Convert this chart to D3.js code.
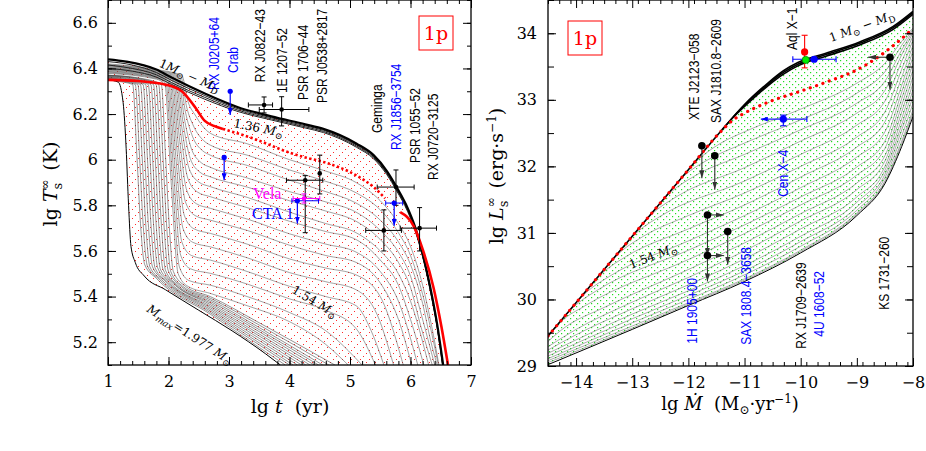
<!DOCTYPE html>
<html>
<head>
<meta charset="utf-8">
<script src="https://cdn.jsdelivr.net/npm/d3@7/dist/d3.min.js"></script>
<style>
body { margin: 0; background: #fff; }
text { white-space: pre; }
</style>
</head>
<body>
<div id="vis"></div>
<script>
// ---------- left panel: cooling curves, [lg t (yr), lg Ts (K)] ----------
const coolTop = [[1,6.44],[1.3,6.43],[1.8,6.395],[2.05,6.36],[2.6,6.29],[3.15,6.23],[3.7,6.19],[4.26,6.155],[4.56,6.135],[5.11,6.07],[5.39,6.02],[5.61,5.95],[5.77,5.88],[5.95,5.79],[6.07,5.71],[6.2,5.59],[6.32,5.45],[6.44,5.28],[6.54,5.1]]
const coolBand = [
  [[1,6.43],[1.4,6.415],[1.8,6.382],[2.05,6.348],[2.6,6.281],[3.15,6.223],[3.7,6.184],[4.26,6.149],[4.56,6.129],[5.11,6.064],[5.39,6.014],[5.61,5.944],[5.77,5.874],[5.95,5.784],[6.07,5.704],[6.2,5.584],[6.32,5.444],[6.44,5.274],[6.537,5.1]],
  [[1,6.415],[1.4,6.4],[1.8,6.372],[2.05,6.338],[2.6,6.273],[3.15,6.217],[3.7,6.179],[4.26,6.144],[4.56,6.124],[5.11,6.059],[5.39,6.009],[5.61,5.939],[5.77,5.869],[5.95,5.779],[6.07,5.699],[6.2,5.579],[6.32,5.439],[6.44,5.269],[6.533,5.1]],
  [[1,6.40],[1.4,6.388],[1.8,6.362],[2.05,6.33],[2.6,6.265],[3.15,6.211],[3.7,6.174],[4.26,6.139],[4.56,6.119],[5.11,6.054],[5.39,6.004],[5.61,5.934],[5.77,5.864],[5.95,5.774],[6.07,5.694],[6.2,5.574],[6.32,5.434],[6.44,5.264],[6.528,5.1]]
]
// masses between 1.36 Msun and the dense band (hatched region)
const coolFamily = [
  [[1,6.42],[1.8,6.395],[2.22,6.37],[2.32,6.256],[2.44,6.196],[2.6,6.136],[2.69,6.116],[3.3,6.07],[4.0,6.0],[4.6,5.95],[5.1,5.9],[5.5,5.82],[5.8,5.72],[6.0,5.62],[6.2,5.45],[6.35,5.27],[6.47,5.1]],
  [[1,6.417],[1.8,6.392],[2.2,6.367],[2.3,6.231],[2.42,6.144],[2.58,6.084],[2.69,6.064],[3.3,6.02],[4.0,5.955],[4.6,5.905],[5.1,5.855],[5.5,5.78],[5.8,5.68],[6.0,5.58],[6.2,5.41],[6.35,5.24],[6.46,5.1]],
  [[1,6.414],[1.8,6.389],[2.18,6.364],[2.28,6.209],[2.4,6.1],[2.56,6.04],[2.69,6.02],[3.3,5.975],[4.0,5.91],[4.6,5.86],[5.1,5.81],[5.5,5.735],[5.8,5.64],[6.0,5.54],[6.2,5.37],[6.33,5.21],[6.44,5.1]],
  [[1,6.411],[1.8,6.386],[2.16,6.361],[2.26,6.184],[2.38,6.047],[2.54,5.987],[2.69,5.967],[3.3,5.92],[4.0,5.86],[4.6,5.815],[5.1,5.77],[5.5,5.69],[5.8,5.595],[6.0,5.49],[6.18,5.32],[6.4,5.1]],
  [[1,6.408],[1.8,6.383],[2.14,6.358],[2.24,6.163],[2.36,6.005],[2.52,5.945],[2.69,5.925],[3.3,5.88],[4.0,5.82],[4.6,5.775],[5.1,5.73],[5.5,5.65],[5.8,5.55],[6.0,5.44],[6.17,5.27],[6.36,5.1]],
  [[1,6.405],[1.8,6.38],[2.12,6.355],[2.22,6.142],[2.34,5.962],[2.5,5.902],[2.69,5.882],[3.3,5.835],[4.0,5.77],[4.6,5.72],[5.1,5.68],[5.5,5.6],[5.8,5.5],[6.0,5.38],[6.3,5.1]],
  [[1,6.402],[1.8,6.377],[2.1,6.352],[2.2,6.121],[2.32,5.918],[2.48,5.858],[2.69,5.838],[3.3,5.79],[4.0,5.73],[4.6,5.685],[5.1,5.65],[5.5,5.56],[5.8,5.45],[6.0,5.3],[6.22,5.1]],
  [[1,6.399],[1.8,6.374],[2.08,6.349],[2.18,6.096],[2.3,5.867],[2.46,5.807],[2.69,5.787],[3.3,5.74],[4.0,5.675],[4.6,5.63],[5.1,5.595],[5.5,5.51],[5.8,5.38],[6.12,5.1]],
  [[1,6.396],[1.8,6.371],[2.06,6.346],[2.16,6.071],[2.28,5.815],[2.44,5.755],[2.69,5.735],[3.3,5.69],[4.0,5.625],[4.6,5.58],[5.1,5.55],[5.5,5.46],[5.8,5.3],[6.02,5.1]],
  [[1,6.393],[1.8,6.368],[2.04,6.343],[2.14,6.043],[2.26,5.757],[2.42,5.697],[2.69,5.677],[3.3,5.63],[4.0,5.565],[4.6,5.525],[5.1,5.495],[5.5,5.4],[5.88,5.1]],
  [[1,6.39],[1.8,6.365],[2.02,6.34],[2.12,6.015],[2.24,5.698],[2.4,5.638],[2.69,5.618],[3.3,5.57],[4.0,5.505],[4.6,5.465],[5.1,5.43],[5.45,5.32],[5.72,5.1]],
  [[1,6.387],[1.8,6.362],[2.0,6.337],[2.1,5.987],[2.22,5.64],[2.38,5.58],[2.69,5.56],[3.3,5.51],[4.0,5.445],[4.6,5.4],[5.1,5.36],[5.35,5.25],[5.56,5.1]],
  [[1,6.384],[1.8,6.359],[1.98,6.334],[2.08,5.96],[2.2,5.582],[2.36,5.522],[2.69,5.502],[3.3,5.455],[4.0,5.39],[4.6,5.34],[5.1,5.26],[5.42,5.1]],
  [[1,6.381],[1.8,6.356],[1.96,6.331],[2.06,5.935],[2.18,5.53],[2.34,5.47],[2.69,5.45],[3.3,5.4],[4.0,5.33],[4.6,5.25],[5.2,5.1]],
  [[1,6.378],[1.8,6.353],[1.94,6.328],[2.04,5.917],[2.16,5.5],[2.32,5.445],[2.69,5.414],[3.3,5.36],[4.0,5.29],[4.6,5.19],[4.97,5.1]]
]
// dense bundle just above the maximum mass
const coolDense = [
  [[1,6.37],[1.58,6.355],[1.88,6.33],[1.95,6.02],[2.01,5.72],[2.08,5.51],[2.28,5.445],[2.69,5.4],[3.5,5.285],[4.75,5.1]],
  [[1,6.37],[1.537,6.355],[1.837,6.33],[1.907,6.02],[1.967,5.72],[2.037,5.51],[2.237,5.445],[2.69,5.393],[3.5,5.275],[4.65,5.1]],
  [[1,6.37],[1.494,6.355],[1.794,6.33],[1.864,6.02],[1.924,5.72],[1.994,5.515],[2.194,5.448],[2.69,5.386],[3.5,5.264],[4.55,5.1]],
  [[1,6.368],[1.451,6.354],[1.751,6.33],[1.821,6.02],[1.881,5.72],[1.951,5.515],[2.151,5.45],[2.69,5.379],[3.5,5.255],[4.48,5.1]],
  [[1,6.366],[1.408,6.353],[1.708,6.33],[1.778,6.02],[1.838,5.72],[1.908,5.52],[2.108,5.455],[2.69,5.372],[3.5,5.246],[4.41,5.1]],
  [[1,6.364],[1.365,6.352],[1.665,6.33],[1.735,6.02],[1.795,5.72],[1.865,5.52],[2.065,5.46],[2.69,5.365],[3.5,5.236],[4.34,5.1]],
  [[1,6.362],[1.322,6.351],[1.622,6.33],[1.692,6.02],[1.752,5.72],[1.822,5.525],[2.022,5.462],[2.69,5.358],[3.5,5.227],[4.27,5.1]],
  [[1,6.36],[1.279,6.35],[1.579,6.33],[1.649,6.02],[1.709,5.72],[1.779,5.525],[1.979,5.465],[2.69,5.351],[3.5,5.217],[4.2,5.1]],
  [[1,6.358],[1.236,6.349],[1.536,6.33],[1.606,6.02],[1.666,5.72],[1.736,5.53],[1.936,5.47],[2.69,5.344],[3.5,5.207],[4.13,5.1]],
  [[1,6.356],[1.193,6.348],[1.493,6.33],[1.563,6.02],[1.623,5.72],[1.693,5.53],[1.893,5.472],[2.69,5.337],[3.5,5.197],[4.06,5.1]],
  [[1,6.354],[1.15,6.347],[1.45,6.33],[1.52,6.02],[1.58,5.72],[1.65,5.535],[1.85,5.475],[2.69,5.33],[3.5,5.188],[4.0,5.1]],
  [[1,6.352],[1.107,6.346],[1.407,6.33],[1.477,6.02],[1.537,5.72],[1.607,5.54],[1.807,5.478],[2.69,5.323],[3.5,5.177],[3.93,5.1]]
]
const coolMax = [[1,6.35],[1.17,6.34],[1.25,6.25],[1.3,6.05],[1.34,5.8],[1.38,5.62],[1.45,5.55],[1.6,5.49],[1.95,5.43],[2.5,5.34],[3.05,5.25],[3.6,5.15],[3.85,5.1]]
const coolRedSolid = [[1,6.35],[1.5,6.345],[1.94,6.33],[2.22,6.3],[2.44,6.23],[2.6,6.17],[2.75,6.148],[2.9,6.135]]
const coolRedDotted = [[2.9,6.135],[3.43,6.09],[4.01,6.03],[4.26,6.01],[4.56,5.99],[5.11,5.93],[5.39,5.88],[5.58,5.83]]
const coolRedLate = [[5.83,5.77],[6.05,5.71],[6.21,5.6],[6.38,5.44],[6.51,5.27],[6.62,5.1]]

// observed sources: t, T, error ranges, upper limit (Tlim)
const coolStars = [
  {name: 'RX J0822−43', t: 3.58, T: 6.24, tErr: [3.32, 3.72], TErr: [6.205, 6.275], color: '#000'},
  {name: '1E 1207−52', t: 3.87, T: 6.22, tErr: [3.5, 4.32], TErr: [6.148, 6.276], color: '#000'},
  {name: 'PSR 1706−44', t: 4.5, T: 5.94, TErr: [5.85, 6.02], color: '#000'},
  {name: 'PSR J0538+2817', t: 4.26, T: 5.91, tErr: [3.95, 4.55], TErr: [5.68, 5.93], color: '#000'},
  {name: 'Geminga', t: 5.76, T: 5.88, tErr: [5.45, 6.06], TErr: [5.8, 5.955], color: '#000'},
  {name: 'PSR 1055−52', t: 5.56, T: 5.69, tErr: [5.26, 5.85], TErr: [5.6, 5.78], color: '#000'},
  {name: 'RX J0720−3125', t: 6.15, T: 5.7, tErr: [5.83, 6.43], TErr: [5.6, 5.79], color: '#000'},
  {name: 'CTA 1', t: 4.13, T: 5.82, tErr: [4.04, 4.48], Tlim: 5.72, color: '#0000ff'},
  {name: 'Vela', t: 4.24, T: 5.83, tErr: [4.06, 4.5], TErr: [5.81, 5.85], color: '#ff00ff'},
  {name: 'Crab', t: 3.02, T: 6.3, Tlim: 6.196, color: '#0000ff'},
  {name: 'RX J0205+64', t: 2.92, T: 6.01, Tlim: 5.91, color: '#0000ff'},
  {name: 'RX J1856−3754', t: 5.73, T: 5.81, tErr: [5.59, 5.87], Tlim: 5.71, color: '#0000ff'}
]
// vertical source names: [text, lg t, lg T, colour]
const coolNames = [
  ['RX J0205+64', 2.835, 6.305, '#0000ff'], ['Crab', 3.149, 6.38, '#0000ff'],
  ['RX J0822−43', 3.595, 6.34, '#000'], ['1E 1207−52', 3.959, 6.292, '#000'],
  ['PSR 1706−44', 4.306, 6.262, '#000'], ['PSR J0538+2817', 4.62, 6.248, '#000'],
  ['Geminga', 5.529, 6.117, '#000'], ['RX J1856−3754', 5.843, 6.042, '#0000ff'],
  ['PSR 1055−52', 6.157, 5.985, '#000'], ['RX J0720−3125', 6.455, 5.911, '#000']
]

// ---------- right panel: heating curves, [lg Mdot, lg L (erg/s)] ----------
const heatTop = [[-14.5,29.45],[-12,31.95],[-11.4,32.55],[-11.0,32.93],[-10.6,33.24],[-10.3,33.44],[-10.05,33.56],[-9.55,33.7],[-8.95,33.87],[-8.36,34.1],[-8.0,34.33]]
const heatBand = [
  [[-11.4,32.55],[-11.0,32.92],[-10.6,33.22],[-10.3,33.415],[-10.05,33.535],[-9.55,33.68],[-8.95,33.85],[-8.36,34.08],[-8.0,34.31]],
  [[-11.2,32.74],[-11.0,32.9],[-10.6,33.2],[-10.3,33.39],[-10.05,33.51],[-9.55,33.655],[-8.95,33.825],[-8.36,34.055],[-8.0,34.285]]
]
const heatRed = [[-14.5,29.45],[-12,31.95],[-11.45,32.5],[-11.2,32.7],[-11.0,32.8],[-10.5,32.99],[-10.0,33.13],[-9.5,33.28],[-9.0,33.45],[-8.66,33.62],[-8.3,33.85],[-8.07,34.02],[-8.0,34.08]]
const heatFamily = [
  [[-12.2,31.75],[-11.8,32.12],[-11.4,32.36],[-11.0,32.52],[-10.0,32.86],[-9.0,33.25],[-8.5,33.55],[-8.2,33.88],[-8.0,34.08]],
  [[-12.45,31.5],[-12.06,31.87],[-11.65,32.1],[-11.0,32.35],[-10.0,32.7],[-9.0,33.1],[-8.5,33.42],[-8.2,33.82],[-8.0,34.06]],
  [[-12.7,31.25],[-12.3,31.62],[-11.9,31.85],[-11.0,32.18],[-10.0,32.55],[-9.0,32.95],[-8.5,33.28],[-8.2,33.75],[-8.0,34.04]],
  [[-13.0,30.95],[-12.6,31.32],[-12.2,31.55],[-11.0,31.98],[-10.0,32.38],[-9.0,32.8],[-8.5,33.14],[-8.2,33.68],[-8.0,34.01]],
  [[-13.3,30.65],[-12.9,31.02],[-12.5,31.25],[-11.0,31.78],[-10.0,32.18],[-9.0,32.62],[-8.5,32.98],[-8.2,33.58],[-8.0,33.96]],
  [[-13.6,30.35],[-13.2,30.72],[-12.8,30.95],[-12.0,31.26],[-11.0,31.6],[-10.0,32.0],[-9.0,32.44],[-8.5,32.82],[-8.2,33.46],[-8.0,33.9]],
  [[-13.9,30.05],[-13.5,30.42],[-13.1,30.65],[-12.0,31.06],[-11.0,31.42],[-10.0,31.84],[-9.0,32.29],[-8.5,32.67],[-8.2,33.34],[-8.0,33.82]],
  [[-14.2,29.75],[-13.8,30.12],[-13.4,30.35],[-12.0,30.88],[-11.0,31.26],[-10.0,31.68],[-9.0,32.14],[-8.5,32.52],[-8.2,33.22],[-8.0,33.74]],
  [[-14.5,29.45],[-14.0,29.92],[-13.6,30.15],[-12.0,30.74],[-11.0,31.12],[-10.0,31.54],[-9.0,31.99],[-8.5,32.38],[-8.2,33.12],[-8.0,33.65]],
  [[-14.5,29.44],[-14.25,29.68],[-13.85,29.9],[-12.0,30.6],[-11.0,30.99],[-10.0,31.42],[-9.0,31.87],[-8.5,32.27],[-8.2,33.02],[-8.0,33.55]],
  [[-14.5,29.37],[-14.2,29.58],[-13.5,29.88],[-12.0,30.45],[-11.0,30.85],[-10.0,31.29],[-9.0,31.75],[-8.5,32.16],[-8.2,32.92],[-8.0,33.45]],
  [[-14.5,29.29],[-14.0,29.55],[-13.0,29.96],[-12.0,30.33],[-11.0,30.73],[-10.0,31.18],[-9.0,31.65],[-8.5,32.08],[-8.2,32.82],[-8.0,33.35]],
  [[-14.5,29.24],[-14.0,29.47],[-13.0,29.86],[-12.0,30.22],[-11.0,30.61],[-10.0,31.06],[-9.0,31.54],[-8.5,32.0],[-8.2,32.72],[-8.0,33.25]],
  [[-14.5,29.19],[-13.0,29.78],[-12.0,30.13],[-11.0,30.51],[-10.0,30.95],[-9.0,31.46],[-8.5,31.94],[-8.2,32.63],[-8.0,33.15]],
  [[-14.5,29.15],[-13.0,29.71],[-12.0,30.06],[-11.0,30.43],[-10.0,30.87],[-9.0,31.39],[-8.5,31.88],[-8.2,32.55],[-8.0,33.05]],
  [[-14.5,29.11],[-13.0,29.65],[-12.0,30.0],[-11.0,30.37],[-10.0,30.8],[-9.0,31.34],[-8.5,31.83],[-8.2,32.46],[-8.0,32.95]],
  [[-14.5,29.08],[-13.0,29.6],[-12.0,29.95],[-11.0,30.31],[-10.0,30.74],[-9.0,31.3],[-8.5,31.78],[-8.2,32.38],[-8.0,32.85]],
  [[-14.5,29.05],[-13.0,29.57],[-12.0,29.93],[-11.0,30.29],[-10.0,30.72],[-9.0,31.28],[-8.5,31.76],[-8.2,32.34],[-8.0,32.8]]
]
const heatBottom = [[-14.5,29.02],[-13.0,29.55],[-12.0,29.91],[-11.0,30.27],[-10.0,30.7],[-9.0,31.26],[-8.5,31.74],[-8.2,32.3],[-8.0,32.75]]

// observed transients: m = lg Mdot, L = lg L, limits mLim / LLim
const heatStars = [
  {name: 'Aql X−1', m: -9.93, L: 33.72, LErr: [33.48, 33.97], color: '#ff0000', r: 3.6},
  {name: 'RX J1709−2639', m: -9.91, L: 33.6, color: '#00ee00', r: 3.6},
  {name: '4U 1608−52', m: -9.76, L: 33.61, mErr: [-10.14, -9.37], color: '#0000ff', r: 3.6},
  {name: 'KS 1731−260', m: -8.41, L: 33.64, mLim: -8.8, LLim: 33.15, color: '#000', r: 3.8},
  {name: 'Cen X−4', m: -10.31, L: 32.71, mErr: [-10.31, -9.89], mLim: -10.71, LErr: [32.61, 32.77], color: '#0000ff', r: 3.6},
  {name: 'XTE J2123−058', m: -11.76, L: 32.31, LLim: 31.82, color: '#000', r: 3.8},
  {name: 'SAX J1810.8−2609', m: -11.53, L: 32.16, LLim: 31.65, color: '#000', r: 3.8},
  {name: '1H 1905+00', m: -11.66, L: 31.27, mLim: -11.37, LLim: 30.66, color: '#000', r: 3.8},
  {name: '1H 1905+00', m: -11.66, L: 30.66, mLim: -11.37, LLim: 30.27, color: '#000', r: 3.8},
  {name: 'SAX 1808.4−3658', m: -11.3, L: 31.02, LLim: 30.52, color: '#000', r: 3.8}
]
const heatNames = [
  ['XTE J2123−058', -11.811, 32.698, '#000'], ['SAX J1810.8−2609', -11.419, 32.653, '#000'],
  ['Aql X−1', -10.065, 33.749, '#000'], ['Cen X−4', -10.226, 31.542, '#0000ff'],
  ['1H 1905+00', -11.846, 29.335, '#0000ff'], ['SAX 1808.4−3658', -10.885, 29.32, '#0000ff'],
  ['RX J1709−2639', -9.905, 29.26, '#000'], ['4U 1608−52', -9.585, 29.44, '#0000ff'],
  ['KS 1731−260', -8.427, 29.845, '#000']
]

const leftXTicks = [1, 2, 3, 4, 5, 6, 7]
const leftYTicks = [5.2, 5.4, 5.6, 5.8, 6, 6.2, 6.4, 6.6]
const rightXTicks = [-14, -13, -12, -11, -10, -9, -8]
const rightYTicks = [29, 30, 31, 32, 33, 34]

const serif = 'DejaVu Serif, serif'
const svg = d3.select('#vis').append('svg').attr('width', 926).attr('height', 451)
const defs = svg.append('defs')

// dotted hatching patterns
const redHatch = defs.append('pattern').attr('id', 'redHatch').attr('patternUnits', 'userSpaceOnUse')
  .attr('width', 9).attr('height', 9)
;[[0, 8], [3, 5], [6, 2]].forEach(p => redHatch.append('rect')
  .attr('x', p[0]).attr('y', p[1]).attr('width', 1).attr('height', 1).attr('fill', '#ff2a2a'))
const greenHatch = defs.append('pattern').attr('id', 'greenHatch').attr('patternUnits', 'userSpaceOnUse')
  .attr('width', 6).attr('height', 6)
;[[0, 0], [3, 3]].forEach(p => greenHatch.append('rect')
  .attr('x', p[0]).attr('y', p[1]).attr('width', 1.2).attr('height', 1.2).attr('fill', '#22dd22'))

function marker(id, color, len, wid) {
  defs.append('marker').attr('id', id).attr('markerUnits', 'userSpaceOnUse')
    .attr('markerWidth', len).attr('markerHeight', wid).attr('refX', len).attr('refY', wid / 2)
    .attr('orient', 'auto')
    .append('path').attr('d', `M0,0L${len},${wid / 2}L0,${wid}Z`).attr('fill', color)
}
marker('arrBlue', '#0000ff', 7, 5)
marker('arrGray', '#333', 8, 5)

function clip(id, x, y) {
  defs.append('clipPath').attr('id', id).append('rect')
    .attr('x', x.range()[0]).attr('y', y.range()[1])
    .attr('width', x.range()[1] - x.range()[0]).attr('height', y.range()[0] - y.range()[1])
}

function rich(sel, parts) {
  parts.forEach(p => {
    const t = sel.append('tspan').text(p[0])
    if (p[1]) Object.entries(p[1]).forEach(([k, v]) => t.attr(k, v))
  })
  return sel
}

function axes(x, y, xMajor, yMajor, xMinorStep, yMinorStep, yMinorLen, yPad) {
  const [x0, x1] = x.range(), [yb, yt] = y.range()
  const xd = x.domain(), yd = y.domain()
  const xMinor = d3.range(xd[0], xd[1] + 1e-6, xMinorStep)
  const yMinor = d3.range(yd[0], yd[1] + 1e-6, yMinorStep)
  const fmt = d3.format('~g')
  const g = svg.append('g')
  g.append('g').attr('transform', `translate(0,${yb})`)
    .call(d3.axisBottom(x).tickValues(xMajor).tickSize(-8).tickPadding(10.5).tickFormat(fmt))
  g.append('g').attr('transform', `translate(0,${yb})`)
    .call(d3.axisBottom(x).tickValues(xMinor).tickSize(-4).tickFormat(''))
  g.append('g').attr('transform', `translate(0,${yt})`)
    .call(d3.axisTop(x).tickValues(xMajor).tickSize(-8).tickFormat(''))
  g.append('g').attr('transform', `translate(0,${yt})`)
    .call(d3.axisTop(x).tickValues(xMinor).tickSize(-4).tickFormat(''))
  g.append('g').attr('transform', `translate(${x0},0)`)
    .call(d3.axisLeft(y).tickValues(yMajor).tickSize(-8).tickPadding(yPad).tickFormat(fmt))
  g.append('g').attr('transform', `translate(${x0},0)`)
    .call(d3.axisLeft(y).tickValues(yMinor).tickSize(-yMinorLen).tickFormat(''))
  g.append('g').attr('transform', `translate(${x1},0)`)
    .call(d3.axisRight(y).tickValues(yMajor).tickSize(-8).tickFormat(''))
  g.append('g').attr('transform', `translate(${x1},0)`)
    .call(d3.axisRight(y).tickValues(yMinor).tickSize(-yMinorLen).tickFormat(''))
  g.selectAll('.domain').remove()
  g.selectAll('.tick line').attr('stroke', '#000').attr('stroke-width', 1)
  g.selectAll('.tick text').attr('font-family', serif).attr('font-size', 16).attr('fill', '#000')
  svg.append('rect').attr('x', x0).attr('y', yt).attr('width', x1 - x0).attr('height', yb - yt)
    .attr('fill', 'none').attr('stroke', '#000').attr('stroke-width', 1.3)
}

function vName(g, x, y, d) {
  g.append('text')
    .attr('transform', `translate(${x(d[1])},${y(d[2])}) rotate(-90) scale(0.8,1)`)
    .attr('font-family', 'Liberation Sans, Arial, sans-serif').attr('font-size', 15)
    .attr('fill', d[3]).text(d[0])
}

function errorBars(g, px, py, s, cap, w) {
  if (s.xErr) {
    g.append('line').attr('x1', px(s.xErr[0])).attr('x2', px(s.xErr[1])).attr('y1', py(s.y)).attr('y2', py(s.y))
      .attr('stroke', s.color).attr('stroke-width', w)
    s.xErr.forEach(v => g.append('line').attr('x1', px(v)).attr('x2', px(v))
      .attr('y1', py(s.y) - cap).attr('y2', py(s.y) + cap).attr('stroke', s.color).attr('stroke-width', w))
  }
  if (s.yErr) {
    g.append('line').attr('x1', px(s.x)).attr('x2', px(s.x)).attr('y1', py(s.yErr[0])).attr('y2', py(s.yErr[1]))
      .attr('stroke', s.color).attr('stroke-width', w)
    s.yErr.forEach(v => g.append('line').attr('y1', py(v)).attr('y2', py(v))
      .attr('x1', px(s.x) - cap).attr('x2', px(s.x) + cap).attr('stroke', s.color).attr('stroke-width', w))
  }
}

// ================= left panel =================
const xL = d3.scaleLinear().domain([1, 7]).range([108, 471])
const yL = d3.scaleLinear().domain([5.1, 6.7]).range([365, 0])
const lineL = d3.line().x(d => xL(d[0])).y(d => yL(d[1])).curve(d3.curveMonotoneX)
clip('clipL', xL, yL)
const gL = svg.append('g').attr('clip-path', 'url(#clipL)')

gL.append('path')
  .attr('d', lineL(coolTop) + 'L' + lineL(coolMax.slice().reverse()).slice(1) + 'Z')
  .attr('fill', 'url(#redHatch)')
gL.selectAll('.fam').data(coolFamily).join('path').attr('d', lineL)
  .attr('fill', 'none').attr('stroke', '#555').attr('stroke-width', 0.55)
gL.selectAll('.dense').data(coolDense).join('path').attr('d', lineL)
  .attr('fill', 'none').attr('stroke', '#4a4a4a').attr('stroke-width', 0.6)
gL.append('path').attr('d', lineL(coolMax)).attr('fill', 'none').attr('stroke', '#000').attr('stroke-width', 1)
gL.selectAll('.band').data(coolBand).join('path').attr('d', lineL)
  .attr('fill', 'none').attr('stroke', '#222').attr('stroke-width', 1)
gL.append('path').attr('d', lineL(coolTop)).attr('fill', 'none').attr('stroke', '#000').attr('stroke-width', 2.2)
gL.append('path').attr('d', lineL(coolRedSolid)).attr('fill', 'none').attr('stroke', '#ff0000').attr('stroke-width', 2.6)
gL.append('path').attr('d', lineL(coolRedDotted)).attr('fill', 'none').attr('stroke', '#ff0000')
  .attr('stroke-width', 2.6).attr('stroke-dasharray', '2.4,2.4')
gL.append('path').attr('d', lineL(coolRedLate)).attr('fill', 'none').attr('stroke', '#ff0000').attr('stroke-width', 2.6)

coolStars.forEach(d => {
  const s = {x: d.t, y: d.T, xErr: d.tErr, yErr: d.TErr, color: d.color}
  errorBars(gL, xL, yL, s, 2.5, 1)
  if (d.Tlim) {
    gL.append('line').attr('x1', xL(d.t)).attr('x2', xL(d.t)).attr('y1', yL(d.T)).attr('y2', yL(d.Tlim))
      .attr('stroke', d.color).attr('stroke-width', 1.2).attr('marker-end', 'url(#arrBlue)')
  }
  gL.append('circle').attr('cx', xL(d.t)).attr('cy', yL(d.T)).attr('r', d.Tlim ? 2.6 : 2.3).attr('fill', d.color)
})
coolNames.forEach(d => vName(svg, xL, yL, d))

// curve annotations
const ann = (x, y, rot, size, parts, color) => rich(svg.append('text')
  .attr('transform', `translate(${x},${y}) rotate(${rot})`)
  .attr('font-family', serif).attr('font-size', size).attr('fill', color || '#000'), parts)
const sun = (s) => ['⊙', {'font-size': s, dy: 3, 'font-style': 'normal'}]
ann(xL(1.83), yL(6.41), 24, 12, [['1', {}], ['M', {'font-style': 'italic'}], sun(9), [' − ', {dy: -3}], ['M', {'font-style': 'italic'}], ['D', {'font-size': 9, dy: 3}]])
ann(xL(3.066), yL(6.143), 11, 12, [['1.36 '], ['M', {'font-style': 'italic'}], sun(9)])
ann(xL(4.025), yL(5.42), 31, 12, [['1.54 '], ['M', {'font-style': 'italic'}], sun(9)])
ann(xL(1.628), yL(5.337), 33, 12, [['M', {'font-style': 'italic'}], ['max', {'font-size': 9, dy: 3, 'font-style': 'italic'}], ['=1.977 ', {dy: -3}], ['M', {'font-style': 'italic'}], sun(9)])
svg.append('text').attr('x', xL(3.397)).attr('y', yL(5.828)).attr('font-family', 'Liberation Serif, serif')
  .attr('font-size', 16).attr('fill', '#ff00ff').text('Vela')
svg.append('text').attr('x', xL(3.38)).attr('y', yL(5.74)).attr('font-family', 'Liberation Serif, serif')
  .attr('font-size', 16).attr('fill', '#0000ff').text('CTA 1')

axes(xL, yL, leftXTicks, leftYTicks, 0.2, 0.1, 4, 10)

rich(svg.append('text').attr('x', 290).attr('y', 413).attr('text-anchor', 'middle')
  .attr('font-family', serif).attr('font-size', 19), [['lg '], ['t', {'font-style': 'italic'}], ['  (yr)']])
rich(svg.append('text').attr('transform', 'translate(57,184) rotate(-90)').attr('text-anchor', 'middle')
  .attr('font-family', serif).attr('font-size', 19),
  [['lg '], ['T', {'font-style': 'italic'}], ['∞', {'font-size': 12, dy: -8}], ['s', {'font-size': 13, dx: -10, dy: 13}], ['  (K)', {dy: -5}]])

// ================= right panel =================
const xR = d3.scaleLinear().domain([-14.5, -8]).range([548, 913])
const yR = d3.scaleLinear().domain([29, 34.5]).range([366, 0])
const lineR = d3.line().x(d => xR(d[0])).y(d => yR(d[1])).curve(d3.curveMonotoneX)
clip('clipR', xR, yR)
const gR = svg.append('g').attr('clip-path', 'url(#clipR)')

gR.append('path')
  .attr('d', lineR(heatTop) + 'L' + lineR(heatBottom.slice().reverse()).slice(1) + 'Z')
  .attr('fill', 'url(#greenHatch)')
gR.selectAll('.fam').data(heatFamily).join('path').attr('d', lineR)
  .attr('fill', 'none').attr('stroke', '#5a5a5a').attr('stroke-width', 0.5)
gR.append('path').attr('d', lineR(heatBottom)).attr('fill', 'none').attr('stroke', '#000').attr('stroke-width', 1)
gR.selectAll('.band').data(heatBand).join('path').attr('d', lineR)
  .attr('fill', 'none').attr('stroke', '#000').attr('stroke-width', 1.6)
gR.append('path').attr('d', lineR(heatTop)).attr('fill', 'none').attr('stroke', '#000').attr('stroke-width', 1.6)
gR.append('path').attr('d', lineR(heatRed)).attr('fill', 'none').attr('stroke', '#ff0000')
  .attr('stroke-width', 3.2).attr('stroke-linecap', 'round').attr('stroke-dasharray', '0.1,6.6')

heatStars.forEach(d => {
  const s = {x: d.m, y: d.L, xErr: d.mErr, yErr: d.LErr, color: d.color}
  errorBars(gR, xR, yR, s, 3, 1.1)
  if (d.mLim) gR.append('line').attr('x1', xR(d.m)).attr('x2', xR(d.mLim)).attr('y1', yR(d.L)).attr('y2', yR(d.L))
    .attr('stroke', d.color === '#000' ? '#333' : d.color).attr('stroke-width', 1.1)
    .attr('marker-end', d.color === '#000' ? 'url(#arrGray)' : 'url(#arrBlue)')
  if (d.LLim) gR.append('line').attr('x1', xR(d.m)).attr('x2', xR(d.m)).attr('y1', yR(d.L)).attr('y2', yR(d.LLim))
    .attr('stroke', '#333').attr('stroke-width', 1.1).attr('marker-end', 'url(#arrGray)')
})
heatStars.forEach(d => {
  gR.append('circle').attr('cx', xR(d.m)).attr('cy', yR(d.L)).attr('r', d.r).attr('fill', d.color)
    .attr('stroke', d.color === '#00ee00' ? '#060' : 'none').attr('stroke-width', 0.6)
})
heatNames.forEach(d => vName(svg, xR, yR, d))
ann(xR(-9.46), yR(33.869), -20, 12, [['1 '], ['M', {'font-style': 'italic'}], sun(9), [' − ', {dy: -3}], ['M', {'font-style': 'italic'}], ['D', {'font-size': 9, dy: 3}]])
ann(xR(-13.022), yR(30.458), -21, 12, [['1.54 '], ['M', {'font-style': 'italic'}], sun(9)])

axes(xR, yR, rightXTicks, rightYTicks, 0.2, 0.5, 6, 11)

rich(svg.append('text').attr('x', 730).attr('y', 410).attr('text-anchor', 'middle')
  .attr('font-family', serif).attr('font-size', 18),
  [['lg '], ['Ṁ', {'font-style': 'italic'}], ['  (M'], ['⊙', {'font-size': 12, dy: 4}], ['·yr', {dy: -4}], ['−1', {'font-size': 12, dy: -7}], [')', {dy: 7}]])
rich(svg.append('text').attr('transform', 'translate(503,176) rotate(-90)').attr('text-anchor', 'middle')
  .attr('font-family', serif).attr('font-size', 19),
  [['lg '], ['L', {'font-style': 'italic'}], ['∞', {'font-size': 12, dy: -8}], ['s', {'font-size': 13, dx: -10, dy: 13}], ['  (erg·s', {dy: -5}], ['−1', {'font-size': 12, dy: -7}], [')', {dy: 7}]])

// "1p" model tags
;[[419, 16], [568, 21]].forEach(p => {
  svg.append('rect').attr('x', p[0]).attr('y', p[1]).attr('width', 34).attr('height', 34)
    .attr('fill', 'none').attr('stroke', '#ff0000').attr('stroke-width', 1)
  svg.append('text').attr('x', p[0] + 17).attr('y', p[1] + 24).attr('text-anchor', 'middle')
    .attr('font-family', serif).attr('font-size', 19).attr('fill', '#ff0000').text('1p')
})
</script>
</body>
</html>
